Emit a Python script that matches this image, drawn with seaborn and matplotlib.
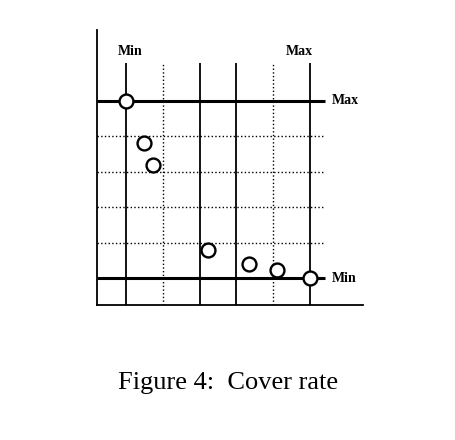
import matplotlib
matplotlib.use("Agg")
import matplotlib.pyplot as plt
import seaborn as sns
import pandas as pd

# grid positions (0 = Min, 5 = Max on both scales)
x_lines = [0, 1, 2, 3, 4, 5]
x_styles = ["-", ":", "-", "-", ":", "-"]
y_lines = [0, 1, 2, 3, 4, 5]
y_styles = ["-", ":", ":", ":", ":", "-"]

# points
pts_x = [0, 0.5, 0.72, 2.24, 3.35, 4.1, 5]
pts_y = [5, 3.8, 3.2, 0.8, 0.4, 0.23, 0]

df = pd.DataFrame({"x": pts_x, "y": pts_y})

sns.set_style("white")
plt.rcParams["font.family"] = ["Liberation Serif", "DejaVu Serif"]

W, H = 456, 440
fig = plt.figure(figsize=(W / 100, H / 100), dpi=100)

# axes box in pixels: x 97..363, y 30..305
ax = fig.add_axes([97 / W, 1 - 305 / H, (363 - 97) / W, (305 - 30) / H])
ax.set_xlim(-0.79, 6.44)
ax.set_ylim(-0.76, 7.0)

for s in ["top", "right"]:
    ax.spines[s].set_visible(False)
for s in ["left", "bottom"]:
    ax.spines[s].set_color("black")
    ax.spines[s].set_linewidth(1.3)
ax.set_xticks([])
ax.set_yticks([])

# vertical grid lines
for xv, ls in zip(x_lines, x_styles):
    lw = 1.3 if ls == "-" else 1.0
    ax.vlines(xv, -0.76, 6.07, colors="black", linestyles=ls, linewidth=lw, zorder=1)

# horizontal grid lines
for yv, ls in zip(y_lines, y_styles):
    lw = 2.2 if ls == "-" else 1.0
    ax.hlines(yv, -0.79, 5.41, colors="black", linestyles=ls, linewidth=lw, zorder=1)

sns.scatterplot(data=df, x="x", y="y", s=100, color="white", edgecolor="black",
                linewidth=1.7, zorder=3, ax=ax, clip_on=False)
ax.set_xlabel("")
ax.set_ylabel("")

lab = dict(fontsize=10, fontweight="bold", color="black")
ax.text(0.1, 6.38, "Min", ha="center", va="center", **lab)
ax.text(4.7, 6.38, "Max", ha="center", va="center", **lab)
ax.text(5.6, 5, "Max", ha="left", va="center", **lab)
ax.text(5.6, 0, "Min", ha="left", va="center", **lab)

fig.text(228 / W, 1 - 383 / H, "Figure 4:  Cover rate", ha="center", va="center",
         fontsize=19, color="black")

fig.savefig("out.png", dpi=100)
